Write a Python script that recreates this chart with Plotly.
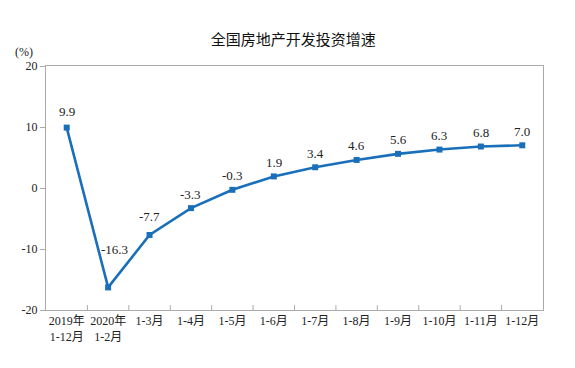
import plotly.graph_objects as go

categories = ["2019年<br>1-12月", "2020年<br>1-2月", "1-3月", "1-4月", "1-5月", "1-6月",
              "1-7月", "1-8月", "1-9月", "1-10月", "1-11月", "1-12月"]
growth = [9.9, -16.3, -7.7, -3.3, -0.3, 1.9, 3.4, 4.6, 5.6, 6.3, 6.8, 7.0]
y_ticks = [-20, -10, 0, 10, 20]
y_ticktext = ["-20", "-10", "0", "10", "20"]
label_shift = [16, 38, 18, 14, 14, 14, 14, 14, 14, 14, 14, 14]
label_xshift = [0, 6, 0, 0, 0, 0, 0, 0, 0, 0, 0, 0]

serif = "Liberation Serif, Times New Roman, Noto Sans CJK SC, serif"
color = "#1a6fba"

fig = go.Figure()
fig.add_trace(go.Scatter(
    x=list(range(len(categories))), y=growth, mode="lines+markers",
    line=dict(color=color, width=2.6),
    marker=dict(symbol="square", size=6, color=color),
    showlegend=False, hoverinfo="skip"))

for i, v in enumerate(growth):
    fig.add_annotation(x=i, y=v, text=f"{v:.1f}", showarrow=False,
                       yshift=label_shift[i], xshift=label_xshift[i],
                       font=dict(family=serif, size=13, color="#222"))

fig.update_layout(
    width=575, height=368,
    margin=dict(l=46, r=32, t=66, b=58, autoexpand=False),
    paper_bgcolor="white", plot_bgcolor="white",
    title=dict(text="全国房地产开发投资增速", x=0.51, xanchor="center", y=0.892, yanchor="middle",
               font=dict(family="Noto Sans CJK SC, sans-serif", size=15, color="#111")),
    xaxis=dict(range=[-0.5, len(categories) - 0.5], tickmode="array",
               tickvals=list(range(len(categories))), ticktext=categories,
               showgrid=False, zeroline=False, showline=True, linecolor="#aaaaaa",
               linewidth=1, mirror=True, ticks="", automargin=False,
               tickfont=dict(family=serif, size=12, color="#222")),
    yaxis=dict(range=[-20, 20], tickmode="array", tickvals=y_ticks, ticktext=y_ticktext,
               showgrid=False, automargin=False,
               zeroline=False, showline=True, linecolor="#aaaaaa", linewidth=1, mirror=True,
               ticks="outside", ticklen=5, tickcolor="#aaaaaa",
               tickfont=dict(family=serif, size=12, color="#222")),
)
# category boundary ticks on the bottom axis
for b in range(1, len(categories)):
    fig.add_shape(type="line", xref="x", yref="paper", x0=b - 0.5, x1=b - 0.5, y0=0, y1=0.02,
                  line=dict(color="#aaaaaa", width=1))
fig.add_annotation(text="(%)", xref="paper", yref="paper", x=-0.045, y=1.02,
                   showarrow=False, xanchor="center", yanchor="bottom",
                   font=dict(family=serif, size=12, color="#222"))
fig.write_html("out.html", config={"displayModeBar": False},
               post_script="document.body.style.margin='0';document.body.style.overflow='hidden';")
